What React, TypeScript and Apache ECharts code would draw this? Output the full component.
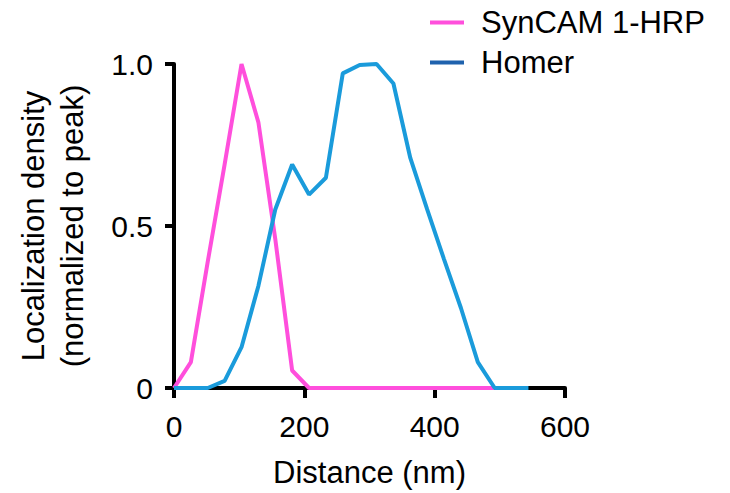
import React, { useEffect, useRef } from "react";
import * as echarts from "echarts";

const distances = [0, 25.9, 51.8, 77.7, 103.6, 129.5, 155.4, 181.3, 207.2, 233.1, 259, 284.9, 310.8, 336.7, 362.6, 388.5, 414.4, 440.3, 466.2, 492.1, 518, 543.9];
const syncamValues = [0, 0.08, 0.39, 0.69, 1.0, 0.82, 0.46, 0.054, 0, 0, 0, 0, 0, 0, 0, 0, 0, 0, 0, 0];
const homerValues = [0, 0, 0, 0.022, 0.126, 0.315, 0.551, 0.69, 0.597, 0.649, 0.971, 0.997, 1.0, 0.94, 0.71, 0.551, 0.397, 0.247, 0.08, 0, 0, 0];
const xTicks = [0, 200, 400, 600];
const yTicks = [0, 0.5, 1.0];

const FONT = '"Liberation Sans", Arial, Helvetica, sans-serif';
const PINK = "#ff4fdc";
const BLUE = "#1a9bdb";
const BLUE_LEGEND = "#1f62ad";

export default function App() {
  const ref = useRef<HTMLDivElement>(null);
  useEffect(() => {
    if (!ref.current) return;
    const chart = echarts.init(ref.current, null, { renderer: "svg" });
    const pair = (ys: number[]) => ys.map((y, i) => [distances[i], y]);
    chart.setOption({
      animation: false,
      backgroundColor: "#ffffff",
      textStyle: { fontFamily: FONT },
      legend: {
        orient: "vertical",
        left: 425,
        top: 2,
        icon: "rect",
        itemWidth: 34,
        itemHeight: 4,
        itemGap: 9,
        textStyle: { fontFamily: FONT, fontSize: 31, color: "#000", lineHeight: 31, padding: [0, 0, 0, 12] },
        data: [
          { name: "SynCAM 1-HRP", itemStyle: { color: PINK } },
          { name: "Homer", itemStyle: { color: BLUE_LEGEND } },
        ],
      },
      grid: { left: 174, right: 165, top: 64, bottom: 104, containLabel: false },
      xAxis: {
        type: "value",
        min: xTicks[0],
        max: xTicks[xTicks.length - 1],
        interval: 200,
        name: "Distance (nm)",
        nameLocation: "middle",
        nameGap: 69,
        nameTextStyle: { fontFamily: FONT, fontSize: 31, color: "#000" },
        axisLine: { show: true, lineStyle: { color: "#000", width: 4 } },
        axisTick: { show: true, length: 10, inside: false, lineStyle: { color: "#000", width: 4 } },
        axisLabel: { fontFamily: FONT, fontSize: 30, color: "#000", margin: 23 },
        splitLine: { show: false },
      },
      yAxis: {
        type: "value",
        min: yTicks[0],
        max: yTicks[yTicks.length - 1],
        interval: 0.5,
        name: "Localization density\n(normalized to peak)",
        nameLocation: "middle",
        nameGap: 82,
        nameTextStyle: { fontFamily: FONT, fontSize: 31, color: "#000", lineHeight: 39 },
        axisLine: { show: true, lineStyle: { color: "#000", width: 4 } },
        axisTick: { show: true, length: 9, inside: false, lineStyle: { color: "#000", width: 4 } },
        axisLabel: {
          fontFamily: FONT,
          fontSize: 30,
          color: "#000",
          margin: 21,
          formatter: (v: number) => (v === 0 ? "0" : v.toFixed(1)),
        },
        splitLine: { show: false },
      },
      series: [
        {
          name: "SynCAM 1-HRP",
          type: "line",
          data: pair(syncamValues),
          showSymbol: false,
          symbol: "none",
          lineStyle: { color: PINK, width: 4 },
          itemStyle: { color: PINK },
          z: 2,
        },
        {
          name: "Homer",
          type: "line",
          data: pair(homerValues),
          showSymbol: false,
          symbol: "none",
          lineStyle: { color: BLUE, width: 4 },
          itemStyle: { color: BLUE },
          z: 3,
        },
      ],
    });
    return () => chart.dispose();
  }, []);
  return <div ref={ref} style={{ position: "fixed", left: 0, top: 0, width: 730, height: 493 }} />;
}
